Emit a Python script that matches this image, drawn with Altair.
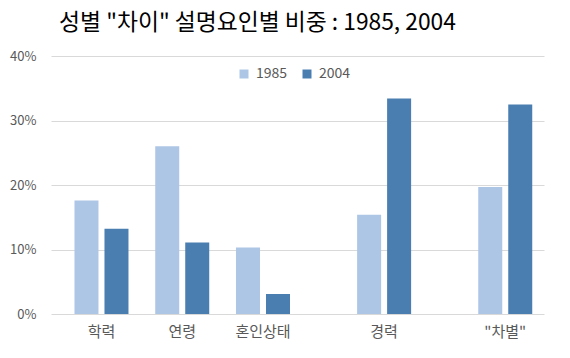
import altair as alt
import pandas as pd

# ---- data ----
categories = ["학력", "연령", "혼인상태", "경력", "\"차별\""]
years = ["1985", "2004"]
v1985 = [17.6, 26.0, 10.3, 15.4, 19.7]
v2004 = [13.2, 11.1, 3.1, 33.4, 32.5]
y_ticks = [0, 10, 20, 30, 40]

# category axis slots (blank slots reproduce the uneven spacing of the original)
slots = ["학력", "_gap1", "연령", "_gap2", "혼인상태", "_gap3", "_gap4",
         "경력", "_gap5", "_gap6", "\"차별\""]

rows = []
for c, a, b in zip(categories, v1985, v2004):
    rows.append({"category": c, "year": years[0], "value": a})
    rows.append({"category": c, "year": years[1], "value": b})
df = pd.DataFrame(rows)

FONT = "Noto Sans CJK KR"
GRAY = "#595959"

color = alt.Color(
    "year:N",
    scale=alt.Scale(domain=years, range=["#adc6e6", "#4a7eb1"]),
    legend=alt.Legend(
        title=None, orient="none", legendX=186, legendY=11,
        direction="horizontal", symbolType="square", symbolSize=81,
        symbolStrokeWidth=0, labelFontSize=14, labelColor=GRAY,
        labelFont=FONT, columnPadding=12, labelOffset=5,
    ),
)

x = alt.X(
    "category:N",
    scale=alt.Scale(domain=slots, paddingInner=0, paddingOuter=0.605, align=0.62),
    axis=alt.Axis(
        title=None, labelAngle=0, ticks=False, domain=False, grid=False,
        labelExpr="indexof(datum.label, '_gap') == 0 ? '' : datum.label",
        labelFontSize=15, labelColor=GRAY, labelFont=FONT, labelPadding=10,
    ),
)
y = alt.Y(
    "value:Q",
    scale=alt.Scale(domain=[0, 40], nice=False),
    axis=alt.Axis(
        title=None, values=y_ticks, labelExpr="datum.value + '%'",
        ticks=False, domain=False, gridColor="#d9d9d9", gridWidth=1,
        labelFontSize=13, labelColor=GRAY, labelFont=FONT, labelPadding=15,
    ),
)

base = alt.Chart(df)
b1 = base.transform_filter(alt.datum.year == years[0]).mark_bar(size=24, xOffset=-15).encode(x=x, y=y, color=color)
b2 = base.transform_filter(alt.datum.year == years[1]).mark_bar(size=24, xOffset=15).encode(x=x, y=y, color=color)

chart = alt.layer(b1, b2).properties(
    width=493, height=258,
    background="white",
    title=alt.TitleParams(
        text="성별 \"차이\" 설명요인별 비중 : 1985, 2004",
        font=FONT, fontSize=22.8, fontWeight="normal", color="#000000",
        anchor="middle", frame="group", offset=15, dx=-40,
    ),
    autosize=alt.AutoSizeParams(type="none"),
    padding={"left": 51, "top": 56, "right": 26, "bottom": 44},
).configure_view(stroke=None)

chart.save("out.html", embed_options={"renderer": "svg", "actions": False})
